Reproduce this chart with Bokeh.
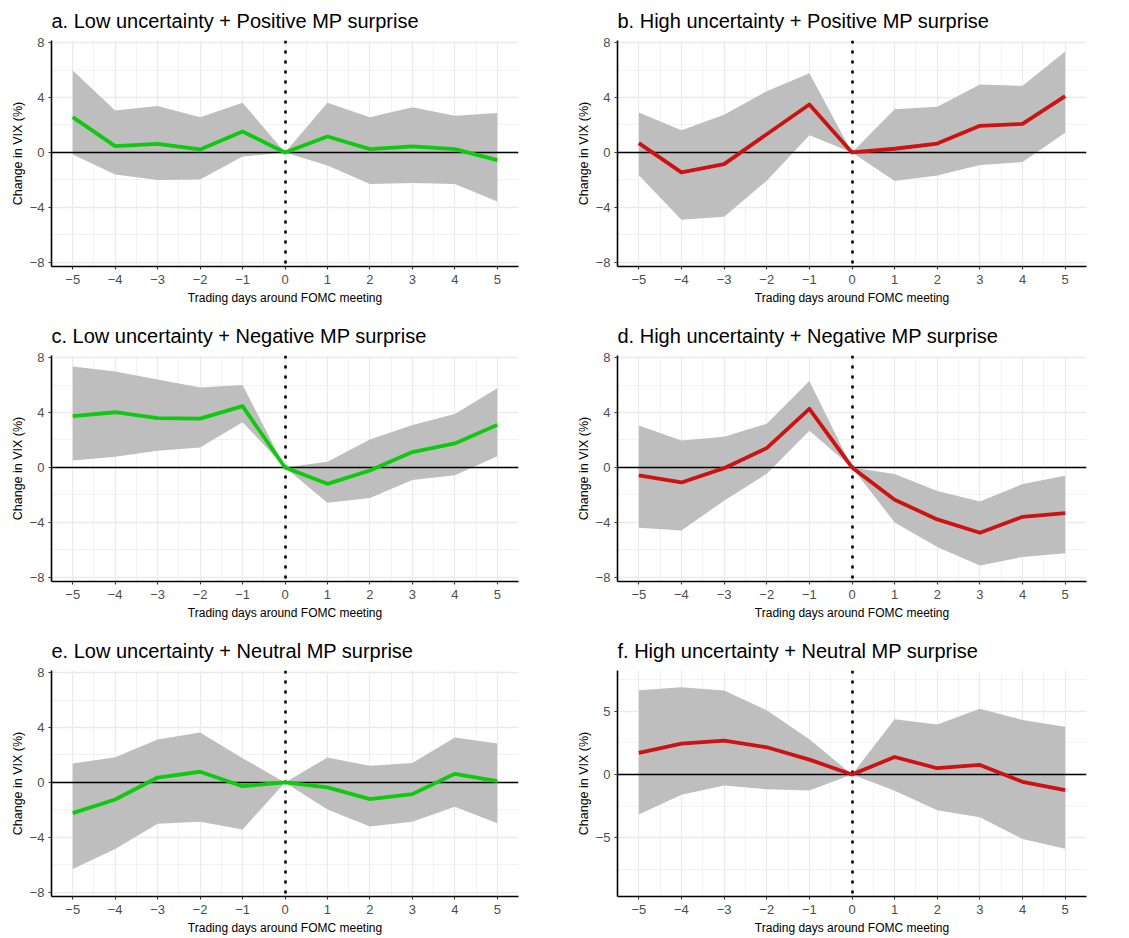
from bokeh.plotting import figure
from bokeh.layouts import gridplot
from bokeh.models import Range1d, FixedTicker
from bokeh.embed import file_html
from bokeh.resources import INLINE

days = [-5, -4, -3, -2, -1, 0, 1, 2, 3, 4, 5]

titles = [
    "a. Low uncertainty + Positive MP surprise",
    "b. High uncertainty + Positive MP surprise",
    "c. Low uncertainty + Negative MP surprise",
    "d. High uncertainty + Negative MP surprise",
    "e. Low uncertainty + Neutral MP surprise",
    "f. High uncertainty + Neutral MP surprise",
]

# point estimates
est_a = [2.57, 0.46, 0.63, 0.22, 1.53, 0.0, 1.16, 0.24, 0.44, 0.24, -0.56]
est_b = [0.68, -1.45, -0.85, 1.33, 3.49, 0.0, 0.27, 0.65, 1.94, 2.08, 4.10]
est_c = [3.73, 4.02, 3.59, 3.56, 4.46, 0.0, -1.19, -0.22, 1.12, 1.75, 3.10]
est_d = [-0.58, -1.09, -0.05, 1.41, 4.27, 0.0, -2.35, -3.78, -4.75, -3.59, -3.32]
est_e = [-2.23, -1.24, 0.36, 0.78, -0.27, 0.0, -0.36, -1.21, -0.85, 0.63, 0.10]
est_f = [1.71, 2.45, 2.68, 2.16, 1.18, 0.0, 1.39, 0.50, 0.76, -0.58, -1.24]

# upper bounds of confidence band
up_a = [5.96, 3.05, 3.39, 2.57, 3.61, 0.0, 3.61, 2.57, 3.30, 2.67, 2.88]
up_b = [2.91, 1.62, 2.74, 4.46, 5.77, 0.0, 3.15, 3.32, 4.95, 4.85, 7.35]
up_c = [7.35, 6.98, 6.40, 5.82, 6.01, 0.0, 0.41, 2.04, 3.10, 3.90, 5.77]
up_d = [3.05, 1.96, 2.23, 3.18, 6.30, 0.0, -0.48, -1.72, -2.47, -1.21, -0.61]
up_e = [1.38, 1.84, 3.13, 3.64, 1.77, 0.0, 1.82, 1.21, 1.41, 3.27, 2.84]
up_f = [6.68, 6.92, 6.66, 5.10, 2.79, 0.0, 4.37, 3.97, 5.21, 4.32, 3.79]

# lower bounds of confidence band
lo_a = [-0.15, -1.60, -2.00, -1.96, -0.29, 0.0, -0.95, -2.30, -2.23, -2.30, -3.56]
lo_b = [-1.65, -4.90, -4.68, -2.06, 1.26, 0.0, -2.08, -1.67, -0.92, -0.70, 1.43]
lo_c = [0.51, 0.78, 1.21, 1.45, 3.30, 0.0, -2.57, -2.23, -0.92, -0.56, 0.82]
lo_d = [-4.39, -4.58, -2.42, -0.46, 2.67, 0.0, -4.00, -5.79, -7.13, -6.52, -6.25]
lo_e = [-6.30, -4.85, -3.00, -2.86, -3.42, 0.0, -1.96, -3.20, -2.86, -1.77, -2.96]
lo_f = [-3.16, -1.61, -0.87, -1.16, -1.26, 0.0, -1.29, -2.82, -3.39, -5.10, -5.87]

x_ticks = days
y_ticks_std = [-8, -4, 0, 4, 8]
y_ticks_f = [-5, 0, 5]

GREEN = "#0FC90F"
RED = "#CC1212"
FONT = "Liberation Sans"


def fmt(v):
    s = str(abs(v))
    return ("\u2212" + s) if v < 0 else s


def panel(title, est, up, lo, color, yticks, ymin, ymax, col, height, bottom):
    width = 565 if col == 0 else 564
    left = 51 if col == 0 else 52
    right = 47 if col == 0 else 43
    p = figure(width=width, height=height, output_backend="svg", toolbar_location=None,
               x_range=Range1d(-5.5, 5.5), y_range=Range1d(ymin, ymax),
               min_border_left=left, min_border_right=right,
               min_border_top=40, min_border_bottom=bottom)
    p.outline_line_color = None
    p.background_fill_color = "white"
    p.border_fill_color = "white"

    p.title.text = title
    p.title.text_font = FONT
    p.title.text_font_size = "20px"
    p.title.text_font_style = "normal"
    p.title.text_color = "black"
    p.title.align = "left"
    p.title.standoff = 13
    p.title.vertical_align = "top"
    p.title.text_baseline = "top"

    step = yticks[1] - yticks[0]
    yminor = [t - step / 2 for t in yticks] + [yticks[-1] + step / 2]
    xminor = [t - 0.5 for t in x_ticks] + [x_ticks[-1] + 0.5]
    p.xaxis.ticker = FixedTicker(ticks=x_ticks, minor_ticks=xminor)
    p.yaxis.ticker = FixedTicker(ticks=yticks, minor_ticks=yminor)
    p.xaxis.major_label_overrides = {t: fmt(t) for t in x_ticks}
    p.yaxis.major_label_overrides = {t: fmt(t) for t in yticks}

    for ax in (p.xaxis, p.yaxis):
        ax.axis_line_color = "black"
        ax.axis_line_width = 1.6
        ax.major_tick_line_color = "#333333"
        ax.major_tick_line_width = 1.1
        ax.major_tick_out = 3
        ax.major_tick_in = 0
        ax.minor_tick_line_color = None
        ax.major_label_text_font = FONT
        ax.major_label_text_font_size = "13px"
        ax.major_label_text_color = "#4D4D4D"
        ax.axis_label_text_font = FONT
        ax.axis_label_text_font_style = "normal"
        ax.axis_label_text_color = "black"
    p.xaxis.axis_label = "Trading days around FOMC meeting"
    p.xaxis.axis_label_text_font_size = "12px"
    p.xaxis.major_label_standoff = 4
    p.xaxis.axis_label_standoff = 4
    p.yaxis.axis_label = "Change in VIX (%)"
    p.yaxis.axis_label_text_font_size = "12.5px"
    p.yaxis.major_label_standoff = 3
    p.yaxis.axis_label_standoff = 2

    for g in (p.xgrid, p.ygrid):
        g.grid_line_color = "#EBEBEB"
        g.grid_line_width = 1.3
        g.minor_grid_line_color = "#EFEFEF"
        g.minor_grid_line_width = 0.8

    p.varea(x=days, y1=lo, y2=up, fill_color="#BEBEBE", fill_alpha=1.0)
    p.hspan(y=[0], line_color="black", line_width=1.4)
    p.vspan(x=[0], line_color="black", line_width=2.6, line_dash="3 7")
    p.line(x=days, y=est, line_color=color, line_width=3.8, line_join="round")
    return p


pa = panel(titles[0], est_a, up_a, lo_a, GREEN, y_ticks_std, -8.3, 8.15, 0, 315, 49)
pb = panel(titles[1], est_b, up_b, lo_b, RED, y_ticks_std, -8.3, 8.15, 1, 315, 49)
pc = panel(titles[2], est_c, up_c, lo_c, GREEN, y_ticks_std, -8.3, 8.15, 0, 315, 49)
pd = panel(titles[3], est_d, up_d, lo_d, RED, y_ticks_std, -8.3, 8.15, 1, 315, 49)
pe = panel(titles[4], est_e, up_e, lo_e, GREEN, y_ticks_std, -8.3, 8.15, 0, 308, 42)
pf = panel(titles[5], est_f, up_f, lo_f, RED, y_ticks_f, -9.66, 8.24, 1, 308, 42)

grid = gridplot([[pa, pb], [pc, pd], [pe, pf]], toolbar_location=None)

open("out.html", "w").write(file_html(grid, INLINE))
